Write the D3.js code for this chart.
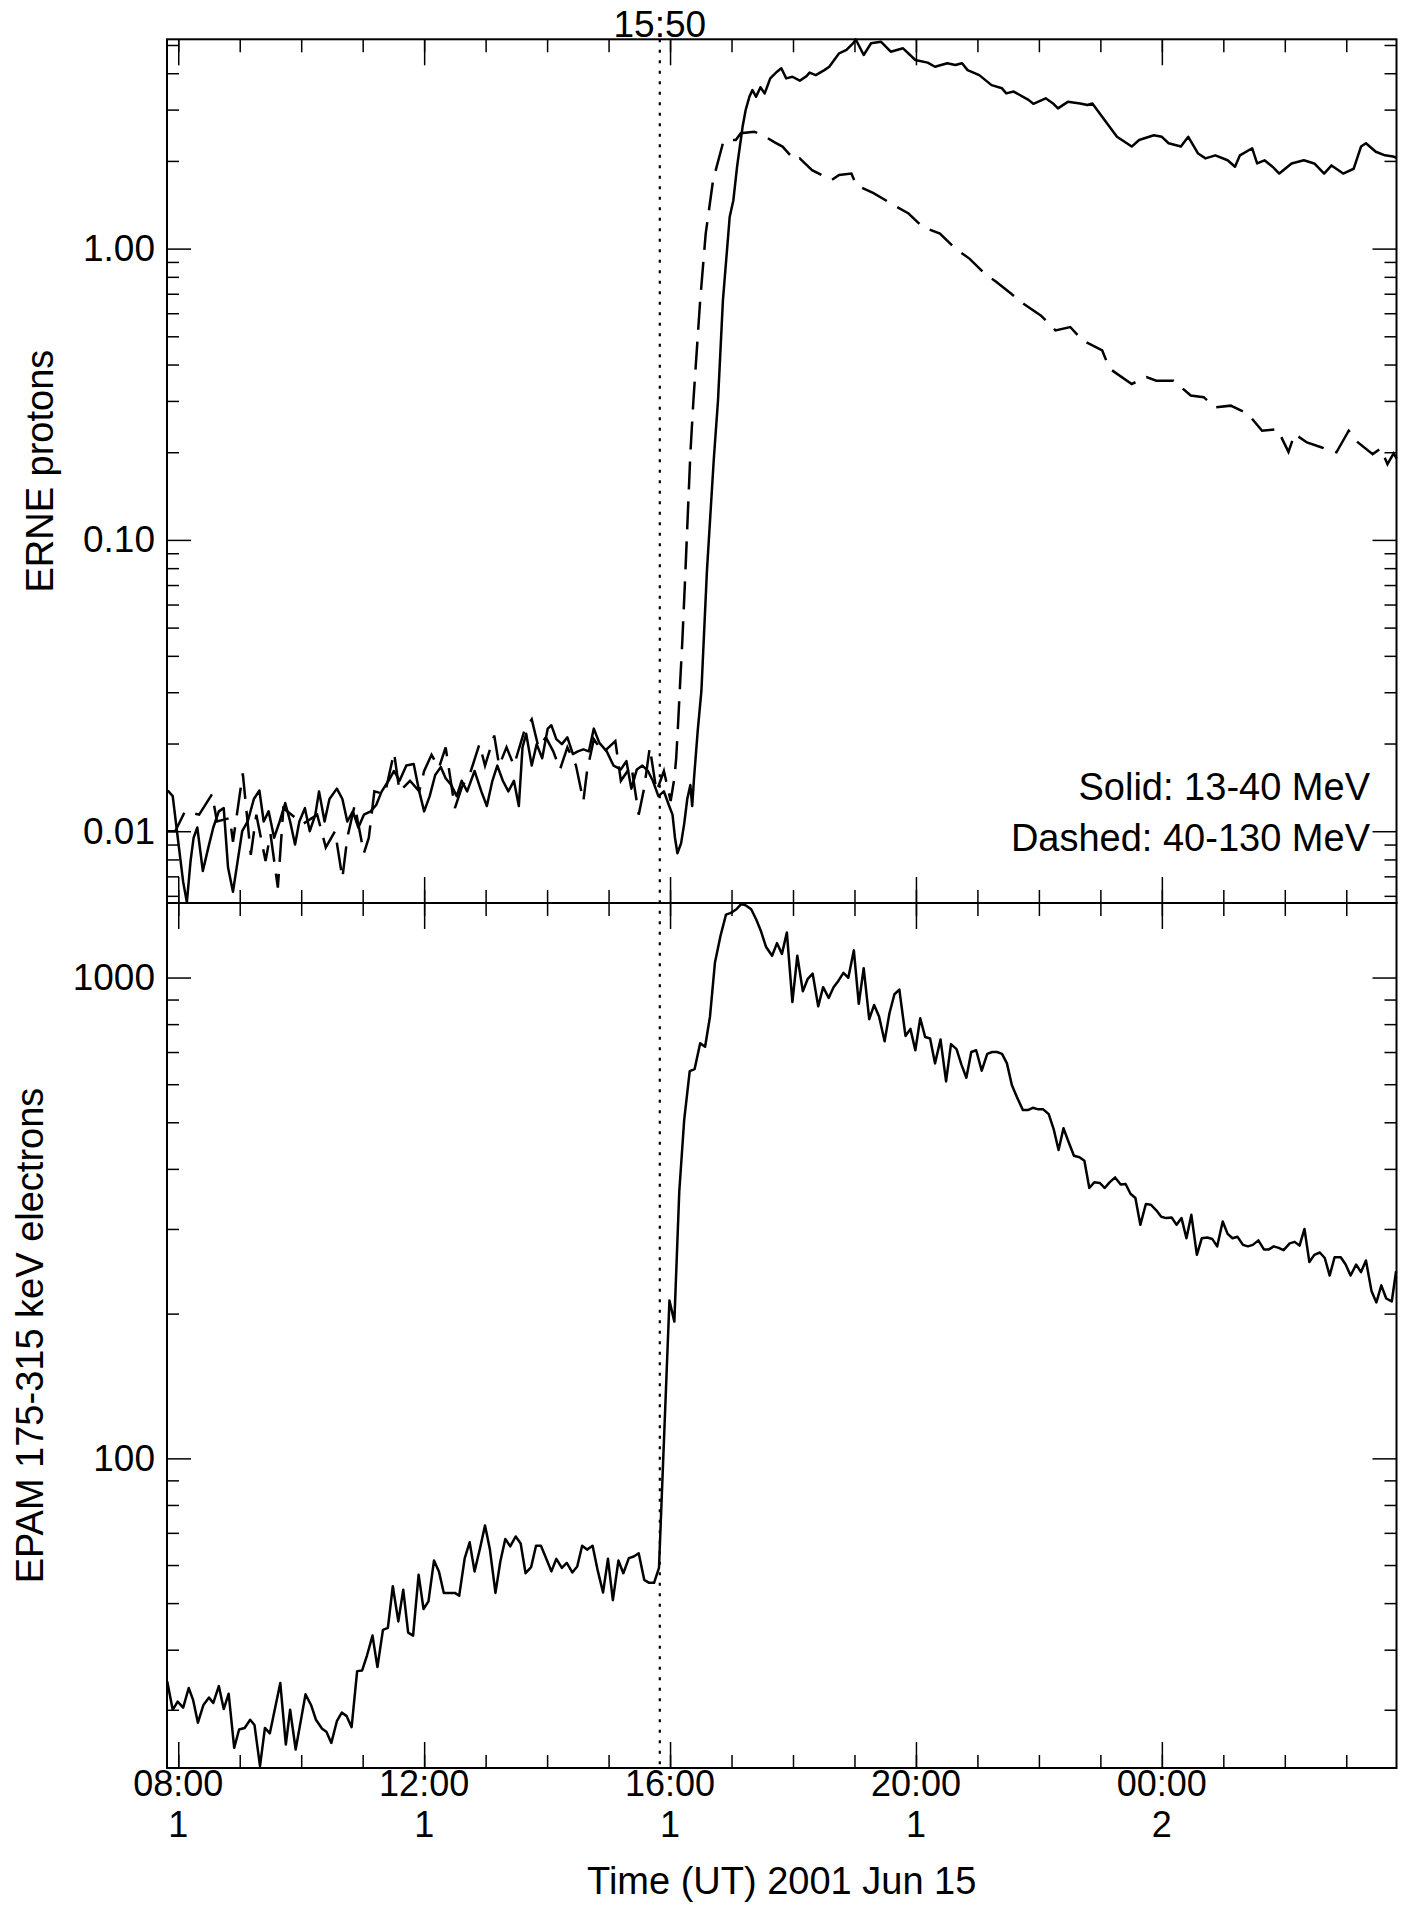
<!DOCTYPE html>
<html>
<head>
<meta charset="utf-8">
<script src="https://cdn.jsdelivr.net/npm/d3@7"></script>
<style>
  body { margin: 0; background: #fff; }
  text { font-family: "Liberation Sans", Arial, Helvetica, sans-serif; fill: #000; }
</style>
</head>
<body>
<svg id="chart" width="1411" height="1906"></svg>
<script>
// time is stored as hours since 2001-06-15 00:00 UT
const T0 = Date.UTC(2001, 5, 15);
const toDate = h => new Date(T0 + h * 3600e3);

const xDomainHours = [7.817, 27.817];
const majorTickHours = [8, 12, 16, 20, 24];
const majorTickTimes = ["08:00", "12:00", "16:00", "20:00", "00:00"];
const majorTickDays = ["1", "1", "1", "1", "2"];
const markerHour = 15 + 50 / 60;
const markerLabel = "15:50";

const erneDomain = [0.00567, 5.23];
const epamDomain = [22.7, 1429];

const legendLines = ["Solid: 13-40 MeV", "Dashed: 40-130 MeV"];

// ERNE 13-40 MeV protons (solid)
const erneSolid = [
  [7.83,0.0138],[7.91,0.0132],[7.96,0.0108],[8.02,0.0085],[8.08,0.0067],[8.14,0.0057],[8.20,0.0079],
  [8.25,0.0095],[8.31,0.0103],[8.40,0.0073],[8.49,0.0088],[8.57,0.0103],[8.66,0.0117],[8.74,0.0120],
  [8.81,0.0075],[8.89,0.0062],[8.95,0.0075],[9.04,0.0100],[9.13,0.0108],[9.23,0.0129],[9.32,0.0138],
  [9.39,0.0108],[9.47,0.0117],[9.56,0.0095],[9.65,0.0108],[9.74,0.0125],[9.82,0.0108],[9.90,0.0090],
  [9.97,0.0108],[10.06,0.0120],[10.14,0.0100],[10.23,0.0114],[10.29,0.0137],[10.38,0.0108],[10.46,0.0129],
  [10.58,0.0140],[10.67,0.0129],[10.75,0.0108],[10.84,0.0117],[10.93,0.0103],[11.02,0.0114],[11.13,0.0117],
  [11.22,0.0123],[11.31,0.0137],[11.42,0.0149],[11.51,0.0161],[11.60,0.0149],[11.71,0.0168],[11.83,0.0170],
  [11.92,0.0137],[12.00,0.0117],[12.09,0.0132],[12.18,0.0156],[12.27,0.0166],[12.35,0.0152],[12.44,0.0144],
  [12.53,0.0132],[12.61,0.0149],[12.70,0.0137],[12.82,0.0161],[12.93,0.0137],[13.02,0.0122],[13.11,0.0149],
  [13.19,0.0168],[13.28,0.0149],[13.37,0.0137],[13.46,0.0149],[13.54,0.0122],[13.60,0.0194],[13.66,0.0216],
  [13.75,0.0168],[13.83,0.0199],[13.92,0.0178],[14.01,0.0225],[14.07,0.0231],[14.15,0.0207],[14.24,0.0199],
  [14.33,0.0210],[14.42,0.0184],[14.50,0.0188],[14.59,0.0191],[14.68,0.0188],[14.76,0.0225],[14.85,0.0201],
  [14.97,0.0188],[15.08,0.0168],[15.20,0.0163],[15.29,0.0174],[15.37,0.0140],[15.46,0.0163],[15.55,0.0168],
  [15.64,0.0161],[15.72,0.0149],[15.81,0.0132],[15.90,0.0137],[15.98,0.0123],[16.04,0.0114],[16.08,0.0095],
  [16.12,0.0084],[16.18,0.0091],[16.23,0.0106],[16.28,0.0129],[16.33,0.0144],[16.36,0.0122],[16.39,0.0152],
  [16.45,0.0221],[16.51,0.0303],[16.60,0.0783],[16.71,0.187],[16.78,0.301],[16.86,0.664],[16.97,1.284],
  [17.03,1.466],[17.09,1.908],[17.18,2.62],[17.23,2.99],[17.29,3.32],[17.34,3.50],[17.40,3.32],[17.47,3.58],
  [17.54,3.41],[17.63,3.84],[17.74,4.05],[17.81,4.16],[17.89,3.84],[17.99,3.89],[18.11,3.77],[18.22,3.91],
  [18.27,4.02],[18.37,3.94],[18.51,4.10],[18.59,4.21],[18.75,4.68],[18.87,4.81],[18.98,5.07],[19.02,5.23],
  [19.15,4.62],[19.27,5.07],[19.43,5.13],[19.59,4.74],[19.79,4.87],[19.99,4.44],[20.19,4.35],[20.31,4.21],
  [20.51,4.33],[20.64,4.27],[20.75,4.33],[20.84,4.10],[21.03,3.94],[21.23,3.64],[21.40,3.55],[21.47,3.41],
  [21.59,3.46],[21.83,3.24],[21.91,3.14],[22.11,3.28],[22.23,3.15],[22.31,3.03],[22.47,3.19],[22.67,3.15],
  [22.79,3.11],[22.87,3.15],[22.99,2.91],[23.11,2.69],[23.27,2.42],[23.51,2.24],[23.63,2.36],[23.87,2.45],
  [24.00,2.42],[24.11,2.30],[24.31,2.24],[24.43,2.42],[24.59,2.12],[24.71,2.04],[24.87,2.09],[25.07,2.01],
  [25.19,1.91],[25.27,2.09],[25.47,2.21],[25.55,1.96],[25.67,2.01],[25.80,1.91],[25.91,1.81],[26.11,1.96],
  [26.31,2.01],[26.48,1.96],[26.64,1.81],[26.76,1.93],[26.95,1.81],[27.12,1.88],[27.24,2.24],[27.32,2.30],
  [27.48,2.15],[27.63,2.09],[27.76,2.07],[27.82,2.05]
];

// ERNE 40-130 MeV protons (dashed)
const erneDashed = [
  [7.83,0.0100],[7.95,0.0100],[8.11,0.0117],[8.34,0.0114],[8.55,0.0134],[8.63,0.0108],[8.84,0.0111],
  [8.89,0.0092],[9.05,0.0158],[9.18,0.0083],[9.27,0.0114],[9.42,0.0079],[9.50,0.0098],[9.62,0.0064],
  [9.71,0.0120],[10.03,0.0106],[10.26,0.0114],[10.40,0.0088],[10.55,0.0100],[10.67,0.0069],[10.75,0.0095],
  [10.87,0.0123],[11.02,0.0084],[11.10,0.0095],[11.19,0.0137],[11.36,0.0134],[11.51,0.0186],[11.60,0.0137],
  [11.77,0.0149],[11.92,0.0137],[12.00,0.0161],[12.12,0.0183],[12.24,0.0165],[12.35,0.0194],[12.50,0.0120],
  [12.61,0.0141],[12.76,0.0161],[12.90,0.0199],[12.99,0.0168],[13.14,0.0213],[13.22,0.0168],[13.34,0.0194],
  [13.46,0.0168],[13.63,0.0221],[13.75,0.0242],[13.86,0.0194],[13.98,0.0210],[14.10,0.0188],[14.21,0.0163],
  [14.33,0.0194],[14.47,0.0168],[14.59,0.0127],[14.65,0.0161],[14.76,0.0207],[14.91,0.0186],[15.11,0.0204],
  [15.20,0.0149],[15.37,0.0168],[15.49,0.0114],[15.58,0.0141],[15.67,0.0194],[15.78,0.0137],[15.90,0.0161],
  [16.01,0.0127],[16.07,0.0152],[16.10,0.0178],[16.13,0.0232],[16.16,0.0311],[16.20,0.045],[16.25,0.078],
  [16.33,0.197],[16.38,0.301],[16.49,0.664],[16.58,1.126],[16.70,1.718],[16.86,2.30],[16.91,2.36],
  [17.07,2.36],[17.15,2.49],[17.37,2.52],[17.51,2.45],[17.71,2.31],[17.83,2.24],[18.03,2.01],[18.11,2.04],
  [18.31,1.86],[18.63,1.72],[18.75,1.79],[18.95,1.81],[19.03,1.65],[19.31,1.55],[19.59,1.43],[19.88,1.32],
  [20.11,1.187],[20.39,1.126],[20.64,1.00],[20.87,0.924],[21.12,0.820],[21.31,0.768],[21.55,0.700],
  [21.75,0.647],[22.03,0.590],[22.27,0.524],[22.51,0.538],[22.71,0.484],[23.03,0.447],[23.13,0.396],
  [23.19,0.382],[23.51,0.343],[23.75,0.362],[23.91,0.352],[24.19,0.352],[24.47,0.313],[24.68,0.309],
  [24.87,0.285],[25.12,0.289],[25.40,0.271],[25.63,0.237],[25.88,0.240],[26.06,0.2005],[26.16,0.231],
  [26.36,0.216],[26.59,0.208],[26.84,0.1998],[27.04,0.237],[27.19,0.216],[27.43,0.197],[27.56,0.206],
  [27.67,0.182],[27.77,0.198],[27.82,0.190]
];

// EPAM 175-315 keV electrons
const epamElectrons = [
  [7.82,34.4],[7.91,30.0],[7.99,31.2],[8.08,30.3],[8.17,33.3],[8.24,31.5],[8.32,28.2],[8.41,30.7],
  [8.50,31.8],[8.57,31.0],[8.66,33.6],[8.74,30.1],[8.82,32.4],[8.91,25.0],[8.99,27.3],[9.08,27.5],
  [9.17,28.6],[9.24,27.9],[9.33,22.9],[9.41,27.5],[9.49,26.8],[9.66,34.1],[9.75,25.4],[9.82,30.0],
  [9.91,24.8],[10.07,32.3],[10.16,30.7],[10.24,28.6],[10.34,27.4],[10.41,27.0],[10.49,25.6],[10.58,28.4],
  [10.66,29.6],[10.74,29.1],[10.82,27.6],[10.91,36.1],[10.99,36.2],[11.07,38.9],[11.16,42.8],[11.24,36.8],
  [11.33,44.0],[11.41,44.4],[11.49,54.2],[11.58,45.8],[11.66,53.3],[11.74,43.4],[11.82,42.8],[11.91,57.3],
  [11.99,48.6],[12.07,50.4],[12.16,61.3],[12.24,58.2],[12.32,52.5],[12.41,52.5],[12.50,52.5],[12.57,51.8],
  [12.66,62.0],[12.74,66.9],[12.82,58.2],[12.91,65.1],[12.99,72.5],[13.07,64.6],[13.16,52.5],[13.24,61.1],
  [13.32,68.0],[13.40,65.6],[13.49,68.8],[13.57,66.5],[13.65,57.7],[13.74,59.4],[13.82,65.8],[13.90,65.8],
  [13.99,61.7],[14.07,58.2],[14.15,61.8],[14.24,59.2],[14.32,60.6],[14.41,57.9],[14.49,59.6],[14.57,65.8],
  [14.65,64.6],[14.74,65.8],[14.82,58.7],[14.91,52.6],[14.99,61.8],[15.07,50.7],[15.16,61.3],[15.24,57.7],
  [15.33,62.0],[15.41,62.5],[15.49,63.5],[15.58,55.9],[15.66,55.1],[15.74,55.1],[15.82,59.2],[15.99,213],
  [16.07,192.5],[16.15,359],[16.23,506],[16.32,639],[16.40,645],[16.49,730],[16.57,718],[16.65,830],
  [16.73,1073],[16.82,1220],[16.91,1352],[16.99,1363],[17.08,1387],[17.16,1423],[17.24,1411],[17.32,1387],
  [17.40,1322],[17.48,1248],[17.56,1159],[17.66,1110],[17.74,1179],[17.82,1120],[17.90,1241],[17.99,889],
  [18.07,1110],[18.16,936],[18.24,994],[18.32,1019],[18.41,871],[18.49,955],[18.58,907],[18.66,955],
  [18.74,985],[18.82,1023],[18.90,999],[18.99,1139],[19.07,882],[19.15,1046],[19.24,819],[19.32,877],
  [19.40,830],[19.49,737],[19.57,844],[19.65,923],[19.73,944],[19.83,756],[19.91,782],[19.99,706],
  [20.07,823],[20.15,752],[20.23,747],[20.31,663],[20.40,743],[20.49,608],[20.57,727],[20.66,710],
  [20.74,659],[20.82,619],[20.90,700],[20.98,706],[21.07,640],[21.16,694],[21.24,700],[21.32,700],
  [21.40,694],[21.48,663],[21.56,598],[21.64,565],[21.74,530],[21.82,530],[21.90,536],[21.99,532],
  [22.07,532],[22.16,520],[22.24,484],[22.32,438],[22.40,486],[22.48,456],[22.57,426],[22.66,423],
  [22.74,416],[22.82,365],[22.90,375],[22.99,374],[23.07,365],[23.15,375],[23.24,384],[23.33,371],
  [23.41,372],[23.49,355],[23.57,348],[23.65,306],[23.74,338],[23.82,337],[23.91,328],[23.99,318],
  [24.07,316],[24.16,317],[24.24,306],[24.32,316],[24.40,287],[24.48,321],[24.57,265],[24.65,287],
  [24.74,288],[24.82,286],[24.90,276],[24.99,311],[25.07,293],[25.15,287],[25.23,289],[25.32,278],
  [25.40,276],[25.48,278],[25.57,284],[25.66,272],[25.74,272],[25.82,276],[25.90,274],[25.98,271],
  [26.08,280],[26.16,282],[26.24,277],[26.32,300],[26.40,256],[26.48,265],[26.57,268],[26.65,261],
  [26.73,240],[26.81,262],[26.91,262],[26.99,253],[27.07,240],[27.16,253],[27.24,244],[27.32,258],
  [27.41,223],[27.49,211],[27.57,229],[27.65,215],[27.74,212],[27.81,245]
];

// layout
const left = 167, right = 1396.5;
const top1 = 39.3, mid = 903, bottom2 = 1768;
const FONT = '"Liberation Sans", Arial, Helvetica, sans-serif';

const svg = d3.select("#chart");

const x = d3.scaleUtc()
  .domain(xDomainHours.map(toDate))
  .range([left, right]);

const yTop = d3.scaleLog().domain(erneDomain).range([mid, top1]);
const yBot = d3.scaleLog().domain(epamDomain).range([bottom2, mid]);

const isDecade = v => Math.abs(Math.log10(v) - Math.round(Math.log10(v))) < 1e-6;

/**
 * styles the ticks and labels drawn by a d3 axis
 */
function styleAxis(g, fontSize) {
  g.select(".domain").remove();
  g.selectAll("line").attr("stroke", "#000").attr("stroke-width", 1.5);
  g.selectAll("text")
    .attr("font-family", FONT)
    .attr("font-size", fontSize)
    .attr("fill", "#000");
}

/**
 * draws the frame, the x ticks on both edges and the y ticks on both sides of one panel
 */
function drawPanel(y0, y1, yScale, fmt) {
  const g = svg.append("g");
  const minorX = x.ticks(d3.utcHour.every(1));
  const majorX = majorTickHours.map(toDate);

  // x ticks, top edge (pointing down) and bottom edge (pointing up)
  g.append("g").attr("transform", `translate(0,${y0})`)
    .call(d3.axisTop(x).tickValues(minorX).tickSize(-13).tickFormat(""))
    .call(a => styleAxis(a, 0));
  g.append("g").attr("transform", `translate(0,${y0})`)
    .call(d3.axisTop(x).tickValues(majorX).tickSize(-26).tickFormat(""))
    .call(a => styleAxis(a, 0));
  g.append("g").attr("transform", `translate(0,${y1})`)
    .call(d3.axisBottom(x).tickValues(minorX).tickSize(-13).tickFormat(""))
    .call(a => styleAxis(a, 0));
  g.append("g").attr("transform", `translate(0,${y1})`)
    .call(d3.axisBottom(x).tickValues(majorX).tickSize(-26).tickFormat(""))
    .call(a => styleAxis(a, 0));

  // y ticks, log decades get labels
  const allY = yScale.ticks();
  const minorY = allY.filter(v => !isDecade(v));
  const majorY = allY.filter(isDecade);

  g.append("g").attr("transform", `translate(${left},0)`)
    .call(d3.axisLeft(yScale).tickValues(minorY).tickSize(-12).tickFormat(""))
    .call(a => styleAxis(a, 0));
  g.append("g").attr("transform", `translate(${left},0)`)
    .call(d3.axisLeft(yScale).tickValues(majorY).tickSize(-24).tickPadding(12).tickFormat(fmt))
    .call(a => styleAxis(a, 37));
  g.append("g").attr("transform", `translate(${right},0)`)
    .call(d3.axisRight(yScale).tickValues(minorY).tickSize(-12).tickFormat(""))
    .call(a => styleAxis(a, 0));
  g.append("g").attr("transform", `translate(${right},0)`)
    .call(d3.axisRight(yScale).tickValues(majorY).tickSize(-24).tickFormat(""))
    .call(a => styleAxis(a, 0));

  // frame
  g.append("rect")
    .attr("x", left).attr("y", y0)
    .attr("width", right - left).attr("height", y1 - y0)
    .attr("fill", "none").attr("stroke", "#000").attr("stroke-width", 2);
}

drawPanel(top1, mid, yTop, d3.format(".2f"));
drawPanel(mid, bottom2, yBot, d3.format("d"));

// data lines
const lineTop = d3.line().x(d => x(toDate(d[0]))).y(d => yTop(d[1]));
const lineBot = d3.line().x(d => x(toDate(d[0]))).y(d => yBot(d[1]));

svg.append("path").datum(erneSolid)
  .attr("d", lineTop).attr("fill", "none")
  .attr("stroke", "#000").attr("stroke-width", 2.5).attr("stroke-linejoin", "round");

svg.append("path").datum(erneDashed)
  .attr("d", lineTop).attr("fill", "none")
  .attr("stroke", "#000").attr("stroke-width", 2.5)
  .attr("stroke-dasharray", "28,12");

svg.append("path").datum(epamElectrons)
  .attr("d", lineBot).attr("fill", "none")
  .attr("stroke", "#000").attr("stroke-width", 2.5).attr("stroke-linejoin", "round");

// 15:50 marker across both panels
const xm = x(toDate(markerHour));
svg.append("line")
  .attr("x1", xm).attr("x2", xm)
  .attr("y1", top1).attr("y2", bottom2)
  .attr("stroke", "#000").attr("stroke-width", 2.2)
  .attr("stroke-dasharray", "3,7.5");
svg.append("text")
  .attr("x", xm).attr("y", 37)
  .attr("text-anchor", "middle")
  .attr("font-size", 37)
  .text(markerLabel);

// x tick labels: time line and day line
const xl = svg.append("g").attr("text-anchor", "middle").attr("font-size", 36);
xl.selectAll(".tt").data(majorTickHours).join("text")
  .attr("class", "tt")
  .attr("x", d => x(toDate(d))).attr("y", 1796)
  .text((d, i) => majorTickTimes[i]);
xl.selectAll(".td").data(majorTickHours).join("text")
  .attr("class", "td")
  .attr("x", d => x(toDate(d))).attr("y", 1837)
  .text((d, i) => majorTickDays[i]);

// titles
svg.append("text")
  .attr("x", (left + right) / 2).attr("y", 1894)
  .attr("text-anchor", "middle").attr("font-size", 38)
  .text("Time (UT) 2001 Jun 15");

svg.append("text")
  .attr("transform", `translate(53,${(top1 + mid) / 2}) rotate(-90)`)
  .attr("text-anchor", "middle").attr("font-size", 38)
  .text("ERNE protons");

svg.append("text")
  .attr("transform", `translate(43,${(mid + bottom2) / 2}) rotate(-90)`)
  .attr("text-anchor", "middle").attr("font-size", 38)
  .text("EPAM 175-315 keV electrons");

// legend
svg.selectAll(".legend").data(legendLines).join("text")
  .attr("class", "legend")
  .attr("x", 1370).attr("y", (d, i) => 800 + i * 51)
  .attr("text-anchor", "end").attr("font-size", 38)
  .text(d => d);
</script>
</body>
</html>
